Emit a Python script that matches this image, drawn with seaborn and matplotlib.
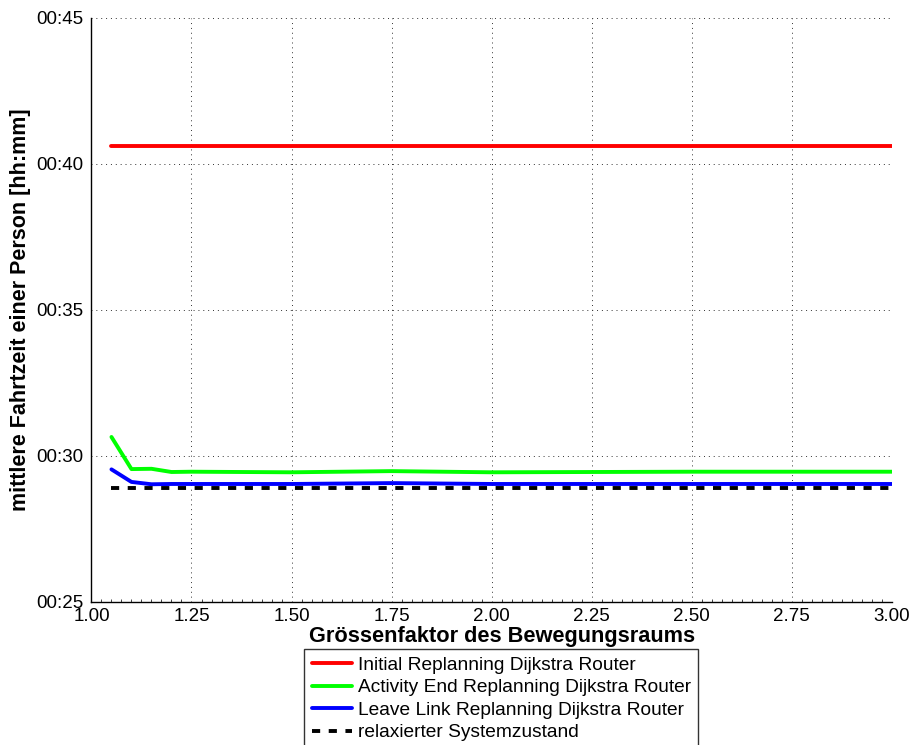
import matplotlib
matplotlib.use("Agg")
import matplotlib.pyplot as plt
from matplotlib.ticker import FuncFormatter, MultipleLocator
import seaborn as sns
import pandas as pd

# Size factor of the movement space
size_factor = [1.05, 1.10, 1.15, 1.20, 1.25, 1.50, 1.75, 2.00, 2.25, 2.50, 2.75, 3.00]

# Mean travel time per person, in minutes
initial_replanning = [40.62] * len(size_factor)
activity_end_replanning = [30.65, 29.55, 29.56, 29.45, 29.46, 29.44, 29.48, 29.44, 29.45, 29.46, 29.46, 29.46]
leave_link_replanning = [29.54, 29.11, 29.03, 29.04, 29.04, 29.04, 29.07, 29.04, 29.04, 29.04, 29.04, 29.04]
relaxed_state = [28.89] * len(size_factor)

series_names = [
    "Initial Replanning Dijkstra Router",
    "Activity End Replanning Dijkstra Router",
    "Leave Link Replanning Dijkstra Router",
    "relaxierter Systemzustand",
]
series_values = [initial_replanning, activity_end_replanning, leave_link_replanning, relaxed_state]
series_colors = ["#ff0000", "#00ff00", "#0000ff", "#000000"]

x_ticks = [1.00, 1.25, 1.50, 1.75, 2.00, 2.25, 2.50, 2.75, 3.00]
y_ticks = [25, 30, 35, 40, 45]

rows = []
for name, vals in zip(series_names, series_values):
    for x, v in zip(size_factor, vals):
        rows.append({"factor": x, "minutes": v, "series": name})
df = pd.DataFrame(rows)

sns.set_theme(style="white")
plt.rcParams["font.family"] = ["Liberation Sans", "DejaVu Sans"]
plt.rcParams["text.color"] = "black"

fig = plt.figure(figsize=(9.1, 7.45), dpi=100)
ax = fig.add_axes([0.1005, 0.192, 0.8795, 0.784])

sns.lineplot(
    data=df, x="factor", y="minutes", hue="series", style="series",
    hue_order=series_names, style_order=series_names,
    palette=series_colors,
    dashes=["", "", "", (2.1, 2.2)],
    linewidth=2.8, ax=ax, legend=True, sort=False,
)

ax.set_xlim(1.0, 3.0)
ax.set_ylim(25, 45)
ax.set_xticks(x_ticks)
ax.set_yticks(y_ticks)
ax.xaxis.set_major_formatter(FuncFormatter(lambda v, p: f"{v:.2f}"))
ax.yaxis.set_major_formatter(FuncFormatter(lambda v, p: f"{int(v // 60):02d}:{int(round(v % 60)):02d}"))
ax.tick_params(axis="both", which="major", direction="in", length=6, width=0.8,
               labelsize=13.5, colors="black")
ax.tick_params(axis="x", which="major", pad=4.5)
ax.tick_params(axis="y", which="major", pad=5.5)
ax.xaxis.set_minor_locator(MultipleLocator(0.025))
ax.tick_params(axis="x", which="minor", bottom=True, direction="in", length=2.5, width=0.6)

ax.grid(True, which="major", linestyle=(0, (1, 4)), color="#333333", linewidth=0.7)
for side in ["top", "right"]:
    ax.spines[side].set_visible(False)
for side in ["left", "bottom"]:
    ax.spines[side].set_color("black")
    ax.spines[side].set_linewidth(1.0)

ax.set_xlabel("Grössenfaktor des Bewegungsraums", fontsize=15.7, fontweight="bold", color="black")
ax.xaxis.set_label_coords(0.513, -0.042)
ax.set_ylabel("mittlere Fahrtzeit einer Person [hh:mm]", fontsize=15.5, fontweight="bold", color="black")
ax.yaxis.set_label_coords(-0.075, 0.5)

handles, labels = ax.get_legend_handles_labels()
leg = ax.legend(
    handles, labels, loc="upper left",
    bbox_to_anchor=(304 / 910, 1 - 649 / 745), bbox_transform=fig.transFigure,
    fontsize=13.8, frameon=True, fancybox=False, borderpad=0.4,
    handlelength=2.1, handletextpad=0.3, labelspacing=0.26, borderaxespad=0,
)
leg.get_frame().set_edgecolor("black")
leg.get_frame().set_linewidth(1.0)
for text in leg.get_texts():
    text.set_color("black")
for line in leg.get_lines():
    line.set_linewidth(2.8)

fig.savefig("out.png", dpi=100)
